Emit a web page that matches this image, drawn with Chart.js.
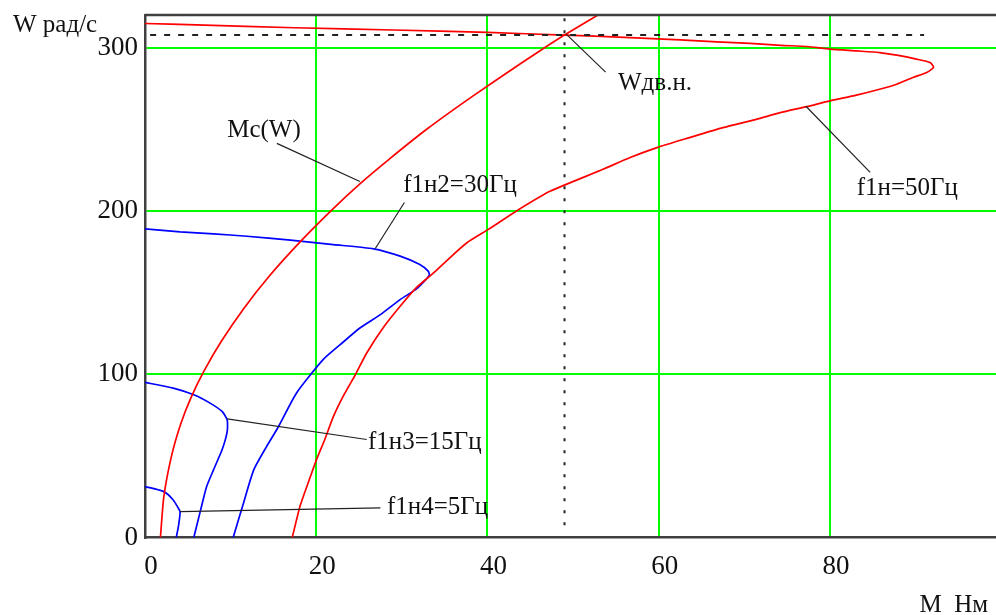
<!DOCTYPE html>
<html>
<head>
<meta charset="utf-8">
<script src="https://cdn.jsdelivr.net/npm/chart.js@4/dist/chart.umd.min.js"></script>
<style>
    body { margin: 0; background: #fff; }
    #wrap { width: 996px; height: 615px; }
</style>
</head>
<body>
<div id="wrap"><canvas id="chart" width="996" height="615"></canvas></div>
<script>
// torque M (Нм) and speed W (рад/с)
let xTicks = [0, 20, 40, 60, 80];
let yTicks = [0, 100, 200, 300];

let mcM = [1.8, 2.2, 3.1, 4.2, 5.4, 6.9, 8.9, 11.5, 14.5, 18.2, 21.9, 25.2, 28.5, 32.9, 38.2, 43.8, 46.1, 49.0, 53.1];
let mcW = [0, 25, 50, 70, 86, 102, 120, 140, 160, 181.5, 201, 217, 231.6, 250, 270, 290, 298, 307.7, 320.6];

let f50M = [17.2, 18.1, 19.3, 20.1, 21.0, 22.0, 23.2, 24.6, 25.9, 27.9, 29.8, 31.7, 33.7, 35.6, 37.6, 40.1, 43.4, 47.3, 53.5, 56.6, 59.8, 63.6, 67.5, 71.4, 74.2, 77.3, 80.0, 83.1, 85.8, 87.8, 89.7, 91.3, 92.1,
            91.7, 90.1, 87.8, 85.8, 83.1, 80.0, 77.3, 74.3, 70.7, 66.8, 62.5, 56.0, 49.0, 40.0, 29.0, 17.5, 6.0, 0];
let f50W = [0, 19, 37, 48.6, 60, 74, 87, 100, 113, 129, 141.6, 153, 162, 171.3, 180.5, 188.7, 200, 212, 225.5, 232.6, 238.8, 244.9, 251, 256.1, 260.2, 263.9, 267.4, 270.9, 274.5, 277.6, 281.7, 284.8, 287.9,
            290.9, 293, 295.4, 297, 298, 299.1, 300.7, 301.4, 302.6, 303.6, 304.8, 306.3, 307.7, 309.3, 310.8, 312.2, 314, 314.8];

let f30M = [0, 4.1, 8.0, 11.9, 17.0, 22.0, 26.7, 29.8, 32.1, 33.1, 33.2, 32.5, 31.6, 29.8, 27.5, 25.1, 22.8, 20.8, 17.7, 15.6, 14.2, 12.7, 11.5, 10.3];
let f30W = [189, 187.2, 186, 184.5, 182.1, 179.4, 176.8, 172.3, 167.2, 163, 160.5, 156.3, 151.8, 145.7, 136.5, 128.3, 118.1, 108.9, 88.5, 68, 55.7, 41.4, 21, 0];

let f15M = [0, 3.3, 5.7, 7.6, 9.0, 9.6, 9.6, 9.0, 8.0, 7.2, 6.5, 5.7];
let f15W = [95, 91.5, 87.4, 82.3, 77.2, 72, 64.9, 53.7, 41.4, 31.2, 16.9, 0];

let f5M = [0, 2.2, 3.3, 3.9, 4.1, 3.9, 3.65];
let f5W = [31.2, 28.1, 23, 17.9, 15.8, 6.6, 0];

// rated point lines
let ratedSpeedM = [0.6, 91];
let ratedSpeedW = [307.7, 307.7];
let ratedTorqueM = [49, 49];
let ratedTorqueW = [318, 7];

// leader lines [M1, W1, M2, W2] and label anchors [M, W, text]
let leaderLines = [
    [15.4, 241.4, 25.1, 218],
    [30.3, 205.2, 26.9, 177],
    [49.2, 308.3, 53.8, 285],
    [77.2, 264.1, 84.7, 223.6],
    [9.6, 72.7, 25.9, 60],
    [4.1, 15.8, 27.5, 18.1]
];
let curveLabels = [
    [9.6, 245.1, 'Mc(W)'],
    [30.15, 211.3, 'f1н2=30Гц'],
    [55.25, 273.9, 'Wдв.н.'],
    [83.14, 209.5, 'f1н=50Гц'],
    [26.05, 54.3, 'f1н3=15Гц'],
    [28.27, 14.4, 'f1н4=5Гц']
];

function toPoints(xs, ys) {
    return xs.map((v, i) => ({ x: v, y: ys[i] }));
}

function curve(xs, ys, color) {
    return {
        data: toPoints(xs, ys),
        showLine: true,
        borderColor: color,
        borderWidth: 1.7,
        pointRadius: 0,
        tension: 0.2
    };
}

const serif = '"Liberation Serif", "Times New Roman", serif';

const annotations = {
    id: 'annotations',
    afterDatasetsDraw(chart) {
        let ctx = chart.ctx;
        let area = chart.chartArea;
        let x = chart.scales.x;
        let y = chart.scales.y;
        ctx.save();
        ctx.strokeStyle = '#404040';
        ctx.lineWidth = 2.5;
        ctx.beginPath();
        ctx.moveTo(area.left, area.top);
        ctx.lineTo(area.right, area.top);
        ctx.stroke();

        ctx.strokeStyle = '#222';
        ctx.lineWidth = 1.2;
        leaderLines.forEach(l => {
            ctx.beginPath();
            ctx.moveTo(x.getPixelForValue(l[0]), y.getPixelForValue(l[1]));
            ctx.lineTo(x.getPixelForValue(l[2]), y.getPixelForValue(l[3]));
            ctx.stroke();
        });

        ctx.fillStyle = '#111';
        ctx.font = '25px ' + serif;
        ctx.textBaseline = 'alphabetic';
        ctx.textAlign = 'left';
        curveLabels.forEach(l => {
            ctx.fillText(l[2], x.getPixelForValue(l[0]), y.getPixelForValue(l[1]));
        });

        // axis names
        ctx.fillText('W рад/с', 13, 32);
        ctx.textAlign = 'right';
        ctx.fillText('M  Нм', 988, 612);
        ctx.restore();
    }
};

new Chart(document.getElementById('chart'), {
    type: 'scatter',
    data: {
        datasets: [
            {
                data: toPoints(ratedSpeedM, ratedSpeedW),
                showLine: true, borderColor: '#222', borderWidth: 2, borderDash: [6, 8], pointRadius: 0
            },
            {
                data: toPoints(ratedTorqueM, ratedTorqueW),
                showLine: true, borderColor: '#222', borderWidth: 2, borderDash: [3, 9], pointRadius: 0
            },
            curve(mcM, mcW, '#ff0000'),
            curve(f50M, f50W, '#ff0000'),
            curve(f30M, f30W, '#0000ff'),
            curve(f15M, f15W, '#0000ff'),
            curve(f5M, f5W, '#0000ff')
        ]
    },
    options: {
        responsive: false,
        animation: false,
        devicePixelRatio: 1,
        layout: { padding: { top: 15, right: 0, left: 0, bottom: 0 } },
        plugins: { legend: { display: false }, tooltip: { enabled: false } },
        scales: {
            x: {
                type: 'linear',
                min: 0,
                max: 99.4,
                afterBuildTicks: s => { s.ticks = xTicks.map(v => ({ value: v })); },
                afterFit: s => {
                    s.height = 77.5;
                    s.paddingLeft = 0;
                    s.paddingRight = 0;
                },
                grid: {
                    drawTicks: false,
                    lineWidth: 2,
                    color: c => c.tick && c.tick.value === 0 ? 'rgba(0,0,0,0)' : '#00ff00'
                },
                border: { display: true, color: '#404040', width: 2.5 },
                ticks: {
                    padding: 13,
                    labelOffset: 6,
                    maxRotation: 0,
                    color: '#111',
                    font: { family: serif, size: 27 }
                }
            },
            y: {
                type: 'linear',
                min: 0,
                max: 320,
                afterBuildTicks: s => { s.ticks = yTicks.map(v => ({ value: v })); },
                afterFit: s => {
                    s.width = 145;
                    s.paddingTop = 0;
                    s.paddingBottom = 0;
                },
                grid: {
                    drawTicks: false,
                    lineWidth: 2,
                    color: c => c.tick && c.tick.value === 0 ? 'rgba(0,0,0,0)' : '#00ff00'
                },
                border: { display: true, color: '#404040', width: 2.5 },
                ticks: {
                    padding: 7,
                    color: '#111',
                    font: { family: serif, size: 27 }
                }
            }
        }
    },
    plugins: [annotations]
});
</script>
</body>
</html>
